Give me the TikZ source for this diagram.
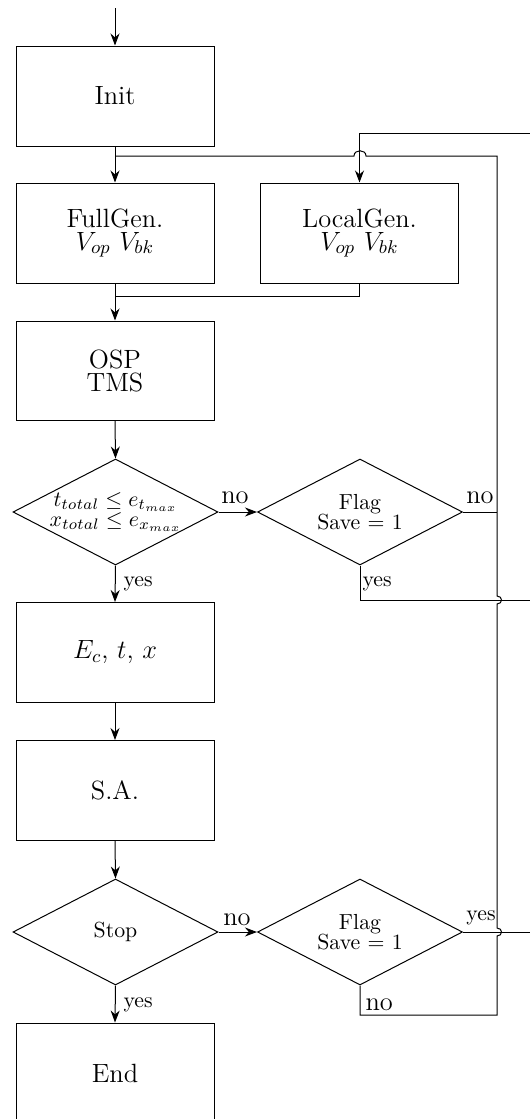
\RequirePackage{fix-cm}
\documentclass[tikz,border=0pt]{standalone}
\usepackage{fontspec}
\usetikzlibrary{arrows.meta,shapes.geometric}
\newcommand\mainsz{\fontsize{13.2}{11.5}\selectfont}
\newcommand\smallsz{\fontsize{10.9}{10}\selectfont}
\begin{document}
\begin{tikzpicture}[x=0.5pt,y=-0.5pt,line width=0.5pt,
  box/.style={draw,rectangle,minimum width=99pt,minimum height=50pt,font=\mainsz,align=center,inner sep=0pt},
  dia/.style={draw,diamond,minimum width=102.5pt,minimum height=53pt,inner sep=0pt},
  dtext/.style={font=\smallsz,align=center,inner sep=0pt},
  arr/.style={-{Stealth[length=6pt,width=4.5pt]}},
  lbl/.style={font=\smallsz,inner sep=0pt},
  lblb/.style={font=\mainsz,inner sep=0pt}]
\useasboundingbox (0,0) rectangle (530,1119);
\clip (0,0) rectangle (530,1119);

% nodes
\node[box] (init) at (115,96) {Init};
\node[box] (full) at (115,233) {FullGen.\\$V_{op}$ $V_{bk}$};
\node[box] (local) at (359.5,233) {LocalGen.\\$V_{op}$ $V_{bk}$};
\node[box,minimum height=49.5pt] (osp) at (115,370.5) {OSP\\TMS};
\node[dia] (d1) at (115.5,512) {};
\node[dtext] (d1t) at (d1) {$t_{total}\leq e_{t_{max}}$\\$x_{total}\leq e_{x_{max}}$};
\node[dia] (f1) at (360,512) {};
\node[dtext] (f1t) at (f1) {Flag\\Save $=$ 1};
\node[box] (ec) at (115,652.5) {$E_c$, $t$, $x$};
\node[box] (sa) at (115,790.5) {S.A.};
\node[dia] (stop) at (115.5,932) {};
\node[dtext] (stopt) at (stop) {Stop};
\node[dia] (f2) at (360,932) {};
\node[dtext] (f2t) at (f2) {Flag\\Save $=$ 1};
\node[box] (end) at (115,1073) {End};

% coordinates
\coordinate (start) at (115,8);
\coordinate (j1) at (115,156);
\coordinate (m1) at (115,296);
\coordinate (m2) at (local.south |- m1);
\coordinate (topR) at (540,133);
\coordinate (topL) at (local.north |- topR);
\coordinate (f1y) at (360,600);
\coordinate (f1yR) at (540,600);
\coordinate (f2yR) at (540,932);
\coordinate (lp1) at (360,1015);
\coordinate (lp2) at (497,1015);
\coordinate (lp3) at (497,156);
\coordinate (f1n) at (497,512);

% connectors
\draw[arr] (start) -- (init.north);
\draw[arr] (init.south) -- (full.north);
\draw[arr] (full.south) -- (osp.north);
\draw (local.south) -- (m2) -- (m1);
\draw[arr] (osp.south) -- (d1.north);
\draw[arr] (d1.east) -- (f1.west);
\draw[arr] (d1.south) -- (ec.north);
\draw[arr] (ec.south) -- (sa.north);
\draw[arr] (sa.south) -- (stop.north);
\draw[arr] (stop.east) -- (f2.west);
\draw[arr] (stop.south) -- (end.north);
\draw (f1.east) -- (f1n);
\draw (f1.south) -- (f1y) -- (f1yR);
\draw (f2.east) -- (f2yR);
\draw[arr] (topR) -- (topL) -- (local.north);
% loop back with hops
\draw (f2.south) -- (lp1) -- (lp2) -- (497,936)
  .. controls (503,936) and (503,928) .. (497,928)
  -- (497,604) .. controls (503,604) and (503,596) .. (497,596)
  -- (lp3) -- (366,156) .. controls (366,149) and (354,149) .. (354,156)
  -- (j1);

% labels
\node[lblb,anchor=base] (no1) at (235,503) {no};
\node[lblb,anchor=base] (no2) at (480,503) {no};
\node[lbl,anchor=base west] (yes1) at (123,586) {yes};
\node[lbl,anchor=base west] (yes2) at (362,586) {yes};
\node[lblb,anchor=base] (no3) at (237,925) {no};
\node[lbl,anchor=base] (yes3) at (481,920) {yes};
\node[lblb,anchor=base west] (no4) at (365,1010) {no};
\node[lbl,anchor=base west] (yes4) at (123,1007) {yes};
\end{tikzpicture}
\end{document}
